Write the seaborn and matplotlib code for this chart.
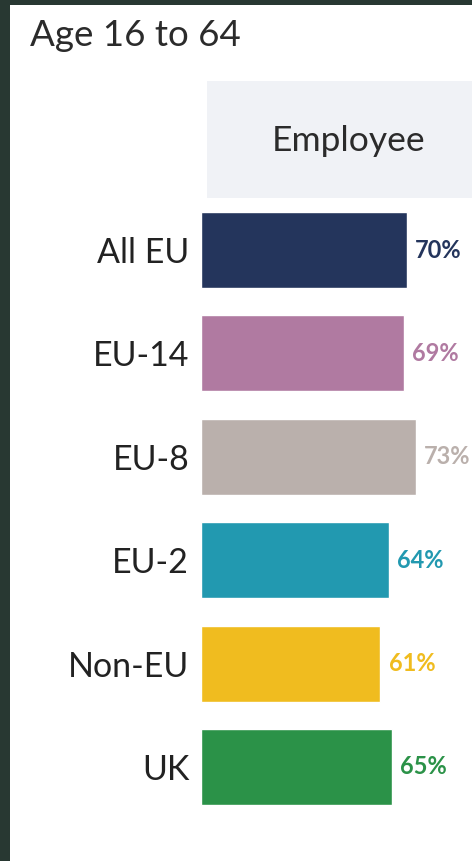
import matplotlib
matplotlib.use("Agg")
import matplotlib.pyplot as plt
import seaborn as sns
import pandas as pd
from matplotlib.patches import Rectangle

# data
groups = ["All EU", "EU-14", "EU-8", "EU-2", "Non-EU", "UK"]
employee_pct = [70, 69, 73, 64, 61, 65]
bar_colors = ["#24355c", "#b07aa1", "#bab0ac", "#2299b0", "#f0bc1f", "#2b9248"]

title = "Age 16 to 64"
header = "Employee"

df = pd.DataFrame({"group": groups, "pct": employee_pct})

sns.set_theme(style="white")
plt.rcParams["font.family"] = ["Lato", "DejaVu Sans"]

W, H = 472, 861
fig = plt.figure(figsize=(W / 100, H / 100), dpi=100)
fig.patch.set_facecolor("#283832")

# white panel inside the dark frame
fig.add_artist(Rectangle((10 / W, 0), 1 - 10 / W, 1 - 5 / H,
                         transform=fig.transFigure, facecolor="white",
                         edgecolor="none", zorder=0))

# header box
fig.add_artist(Rectangle((207 / W, 1 - 198 / H), (W - 207) / W, 117 / H,
                         transform=fig.transFigure, facecolor="#f0f2f6",
                         edgecolor="none", zorder=1))
fig.text(349 / W, 1 - 141 / H, header, ha="center", va="center",
         fontsize=25.5, color="#2b2b2b")

fig.text(30 / W, 1 - 36 / H, title, ha="left", va="center",
         fontsize=26.5, color="#2b2b2b")

# bar axes: 0% at x=201px, ~2.94px per %
ax_left, ax_right = 201, W
ax_top, ax_bot = 198.3, 818.7
ax = fig.add_axes([ax_left / W, 1 - ax_bot / H, (ax_right - ax_left) / W,
                   (ax_bot - ax_top) / H])
ax.set_facecolor("none")

sns.barplot(data=df, x="pct", y="group", hue="group", palette=bar_colors,
            legend=False, orient="h", width=0.735, saturation=1, ax=ax)

ax.set_xlim(0, (ax_right - ax_left) / 2.94)
ax.set_ylim(5.5, -0.5)
ax.set_xlabel("")
ax.set_ylabel("")
ax.set_xticks([])
for s in ax.spines.values():
    s.set_visible(False)
ax.tick_params(axis="y", length=0, pad=8.5)
for lab in ax.get_yticklabels():
    lab.set_fontsize(24.5)
    lab.set_color("#222222")

for cont, col in zip(ax.containers, bar_colors):
    texts = ax.bar_label(cont, labels=[f"{v:.0f}%" for v in cont.datavalues],
                         padding=6, fontsize=17, fontweight="bold")
    for t in texts:
        t.set_color(col)
        t.set_clip_on(False)

fig.savefig("out.png", dpi=100, facecolor=fig.get_facecolor())
